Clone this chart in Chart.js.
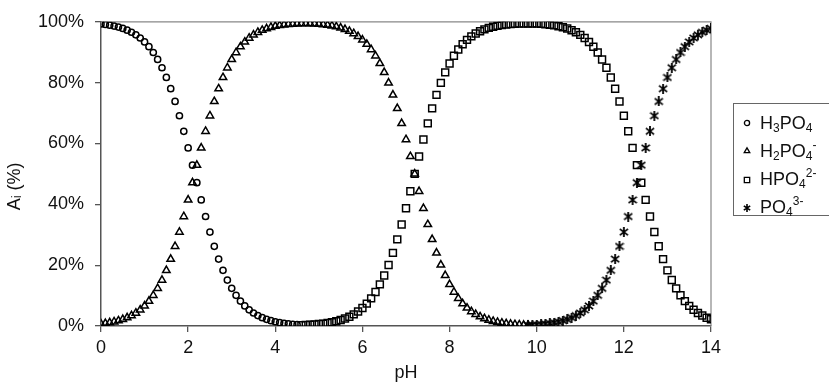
<!DOCTYPE html>
<html>
<head>
<meta charset="utf-8">
<script src="https://cdn.jsdelivr.net/npm/chart.js@4.4.1/dist/chart.umd.min.js"></script>
<style>
  html, body { margin: 0; padding: 0; background: #fff; overflow: hidden; }
  #wrap { position: relative; width: 829px; height: 388px; }
  #legend {
    position: absolute; left: 733px; top: 103px; width: 120px; height: 111px;
    border: 1px solid #666; background: #fff;
    font-family: 'Liberation Sans', Arial, sans-serif; font-size: 18px; color: #111;
  }
  .row { position: absolute; left: 0; height: 24px; display: flex; align-items: center; white-space: nowrap; }
  .row canvas { margin-left: 8px; margin-right: 8px; }
  .row sub { font-size: 12px; vertical-align: -0.25em; line-height: 0; }
  .row sup { font-size: 12px; vertical-align: 0.65em; line-height: 0; }
</style>
</head>
<body>
<div id="wrap">
  <canvas id="chart" width="829" height="388"></canvas>
  <div id="legend"></div>
</div>
<script>
/* =====================
   Phosphoric acid species vs pH
   ===================== */

const FONT = "'Liberation Sans', Arial, sans-serif";
const INK = '#000';

// pH grid (step 0.1)
const pH = [
  0, 0.1, 0.2, 0.3, 0.4, 0.5, 0.6, 0.7, 0.8, 0.9,
  1, 1.1, 1.2, 1.3, 1.4, 1.5, 1.6, 1.7, 1.8, 1.9,
  2, 2.1, 2.2, 2.3, 2.4, 2.5, 2.6, 2.7, 2.8, 2.9,
  3, 3.1, 3.2, 3.3, 3.4, 3.5, 3.6, 3.7, 3.8, 3.9,
  4, 4.1, 4.2, 4.3, 4.4, 4.5, 4.6, 4.7, 4.8, 4.9,
  5, 5.1, 5.2, 5.3, 5.4, 5.5, 5.6, 5.7, 5.8, 5.9,
  6, 6.1, 6.2, 6.3, 6.4, 6.5, 6.6, 6.7, 6.8, 6.9,
  7, 7.1, 7.2, 7.3, 7.4, 7.5, 7.6, 7.7, 7.8, 7.9,
  8, 8.1, 8.2, 8.3, 8.4, 8.5, 8.6, 8.7, 8.8, 8.9,
  9, 9.1, 9.2, 9.3, 9.4, 9.5, 9.6, 9.7, 9.8, 9.9,
  10, 10.1, 10.2, 10.3, 10.4, 10.5, 10.6, 10.7, 10.8, 10.9,
  11, 11.1, 11.2, 11.3, 11.4, 11.5, 11.6, 11.7, 11.8, 11.9,
  12, 12.1, 12.2, 12.3, 12.4, 12.5, 12.6, 12.7, 12.8, 12.9,
  13, 13.1, 13.2, 13.3, 13.4, 13.5, 13.6, 13.7, 13.8, 13.9,
  14
];

// H3PO4, pH 0 - 4.5
const h3po4 = [
  99.30, 99.12, 98.89, 98.61, 98.25, 97.81, 97.26, 96.57, 95.72, 94.68,
  93.39, 91.82, 89.91, 87.62, 84.90, 81.71, 78.01, 73.81, 69.12, 64.01,
  58.55, 52.88, 47.12, 41.45, 35.99, 30.88, 26.19, 21.99, 18.29, 15.10,
  12.38, 10.09, 8.18, 6.61, 5.32, 4.28, 3.43, 2.74, 2.19, 1.75,
  1.39, 1.11, 0.88, 0.70, 0.56, 0.45
];
const h3po4Start = 0;

// H2PO4-, pH 0 - 9.8
const h2po4 = [
  0.70, 0.88, 1.11, 1.39, 1.75, 2.19, 2.74, 3.43, 4.28, 5.32,
  6.61, 8.18, 10.09, 12.38, 15.10, 18.29, 21.99, 26.19, 30.88, 35.99,
  41.45, 47.12, 52.88, 58.55, 64.01, 69.12, 73.81, 78.01, 81.71, 84.90,
  87.62, 89.91, 91.82, 93.38, 94.67, 95.71, 96.55, 97.24, 97.77, 98.20,
  98.55, 98.81, 99.02, 99.17, 99.28, 99.35, 99.40, 99.41, 99.38, 99.33,
  99.23, 99.10, 98.92, 98.69, 98.39, 98.00, 97.52, 96.91, 96.15, 95.21,
  94.05, 92.63, 90.90, 88.82, 86.32, 83.37, 79.92, 75.97, 71.53, 66.61,
  61.31, 55.73, 50.00, 44.27, 38.69, 33.39, 28.47, 24.03, 20.08, 16.63,
  13.68, 11.18, 9.09, 7.36, 5.93, 4.77, 3.83, 3.06, 2.45, 1.96,
  1.56, 1.24, 0.99, 0.79, 0.63, 0.50, 0.40, 0.31, 0.25
];
const h2po4Start = 0;

// HPO4 2-, pH 4.6 - 14
const hpo4 = [
  0.25, 0.31, 0.40, 0.50,
  0.63, 0.79, 0.99, 1.24, 1.56, 1.96, 2.45, 3.06, 3.83, 4.77,
  5.93, 7.36, 9.09, 11.18, 13.68, 16.63, 20.08, 24.03, 28.47, 33.39,
  38.69, 44.27, 50.00, 55.73, 61.31, 66.61, 71.53, 75.97, 79.92, 83.37,
  86.32, 88.82, 90.90, 92.63, 94.05, 95.21, 96.15, 96.91, 97.52, 98.00,
  98.40, 98.70, 98.94, 99.12, 99.26, 99.36, 99.43, 99.46, 99.47, 99.45,
  99.40, 99.32, 99.20, 99.04, 98.83, 98.56, 98.21, 97.78, 97.24, 96.55,
  95.71, 94.66, 93.38, 91.82, 89.91, 87.62, 84.90, 81.71, 78.01, 73.81,
  69.12, 64.01, 58.55, 52.88, 47.12, 41.45, 35.99, 30.88, 26.19, 21.99,
  18.29, 15.10, 12.38, 10.09, 8.18, 6.61, 5.32, 4.28, 3.43, 2.74,
  2.19
];
const hpo4Start = 46;

// PO4 3-, pH 9.8 - 14
const po4 = [
  0.28, 0.35,
  0.44, 0.56, 0.70, 0.88, 1.11, 1.39, 1.75, 2.19, 2.74, 3.43,
  4.28, 5.32, 6.61, 8.18, 10.09, 12.38, 15.10, 18.29, 21.99, 26.19,
  30.88, 35.99, 41.45, 47.12, 52.88, 58.55, 64.01, 69.12, 73.81, 78.01,
  81.71, 84.90, 87.62, 89.91, 91.82, 93.39, 94.68, 95.72, 96.57, 97.26,
  97.81
];
const po4Start = 98;

const seriesLabels = ['H₃PO₄', 'H₂PO₄⁻', 'HPO₄²⁻', 'PO₄³⁻'];
const legendHtml = [
  'H<sub>3</sub>PO<sub>4</sub>',
  'H<sub>2</sub>PO<sub>4</sub><sup>-</sup>',
  'HPO<sub>4</sub><sup>2-</sup>',
  'PO<sub>4</sub><sup>3-</sup>'
];

const xTicks = [0, 2, 4, 6, 8, 10, 12, 14];

// Excel-like star marker: x with a vertical bar
function makeStar(size, lw) {
  const c = document.createElement('canvas');
  c.width = size; c.height = size;
  const g = c.getContext('2d');
  g.strokeStyle = INK;
  g.lineWidth = lw;
  const m = lw / 2, e = size - m, h = size / 2;
  g.beginPath();
  g.moveTo(m, m + 1); g.lineTo(e, e - 1);
  g.moveTo(e, m + 1); g.lineTo(m, e - 1);
  g.moveTo(h, 0); g.lineTo(h, size);
  g.stroke();
  return c;
}

function toPoints(values, start) {
  return values.map((v, i) => ({ x: pH[start + i], y: v }));
}

const styles = [
  { pointStyle: 'circle', radius: 3.1 },
  { pointStyle: 'triangle', radius: 4.3 },
  { pointStyle: 'rect', radius: 4.9 },
  { pointStyle: makeStar(10, 1.8), radius: 5 }
];

const datasets = [
  [h3po4, h3po4Start], [h2po4, h2po4Start], [hpo4, hpo4Start], [po4, po4Start]
].map(([vals, start], i) => ({
  label: seriesLabels[i],
  data: toPoints(vals, start),
  pointStyle: styles[i].pointStyle,
  pointRadius: styles[i].radius,
  pointBorderColor: INK,
  pointBackgroundColor: 'rgba(0,0,0,0)',
  pointBorderWidth: 1.5,
  showLine: false
}));

// Grey top/right frame of the plot area
const framePlugin = {
  id: 'frame',
  beforeDatasetsDraw(chart) {
    const { ctx, chartArea: a } = chart;
    ctx.save();
    ctx.strokeStyle = '#888';
    ctx.lineWidth = 1.2;
    ctx.beginPath();
    ctx.moveTo(a.left, a.top);
    ctx.lineTo(a.right, a.top);
    ctx.lineTo(a.right, a.bottom);
    ctx.stroke();
    ctx.restore();
  }
};

const tickFont = { family: FONT, size: 18 };

const chart = new Chart(document.getElementById('chart'), {
  type: 'scatter',
  data: { datasets },
  options: {
    responsive: false,
    animation: false,
    layout: { padding: { top: 12, right: 118, left: 0, bottom: 0 } },
    plugins: { legend: { display: false }, tooltip: { enabled: false } },
    scales: {
      x: {
        type: 'linear', min: 0, max: 14,
        afterBuildTicks: s => { s.ticks = xTicks.map(v => ({ value: v })); },
        ticks: { color: '#111', font: tickFont, padding: 5, maxRotation: 0 },
        grid: { drawOnChartArea: false, tickLength: 6, color: '#555', lineWidth: 1.3 },
        border: { color: '#555', width: 1.5 },
        title: { display: true, text: 'pH', color: '#111', font: tickFont, padding: { top: 0, bottom: 4 } },
        afterFit: s => { s.height = 62; }
      },
      y: {
        min: 0, max: 100,
        ticks: { stepSize: 20, color: '#111', font: tickFont, padding: 11, callback: v => v + '%' },
        grid: { drawOnChartArea: false, tickLength: 6, color: '#555', lineWidth: 1.3 },
        border: { color: '#555', width: 1.5 },
        // trailing spaces nudge the rotated title down like the original
        title: { display: true, text: 'Aᵢ (%)\u00a0\u00a0\u00a0\u00a0\u00a0', color: '#111', font: tickFont, padding: { top: 4, bottom: 0 } },
        afterFit: s => { s.width = 101; }
      }
    }
  },
  plugins: [framePlugin]
});

// HTML legend (keeps sub/superscripts as real text)
function renderLegend() {
  const el = document.getElementById('legend');
  el.innerHTML = '';
  const legendStyles = [
    { pointStyle: 'circle', radius: 2.6 },
    { pointStyle: 'triangle', radius: 3.2 },
    { pointStyle: 'rect', radius: 3.8 },
    { pointStyle: makeStar(8, 1.6), radius: 4 }
  ];
  legendHtml.forEach((html, i) => {
    const row = document.createElement('div');
    row.className = 'row';
    row.style.top = (7 + i * 28.3) + 'px';
    const c = document.createElement('canvas');
    c.width = 10; c.height = 10;
    const g = c.getContext('2d');
    g.strokeStyle = INK;
    g.fillStyle = 'rgba(0,0,0,0)';
    g.lineWidth = 1.3;
    if (Chart.helpers && Chart.helpers.drawPoint) {
      Chart.helpers.drawPoint(g, {
        pointStyle: legendStyles[i].pointStyle,
        radius: legendStyles[i].radius,
        rotation: 0,
        borderWidth: 1.3
      }, 5, 5);
    }
    const span = document.createElement('span');
    span.innerHTML = html;
    row.appendChild(c);
    row.appendChild(span);
    el.appendChild(row);
  });
}
renderLegend();
</script>
</body>
</html>
